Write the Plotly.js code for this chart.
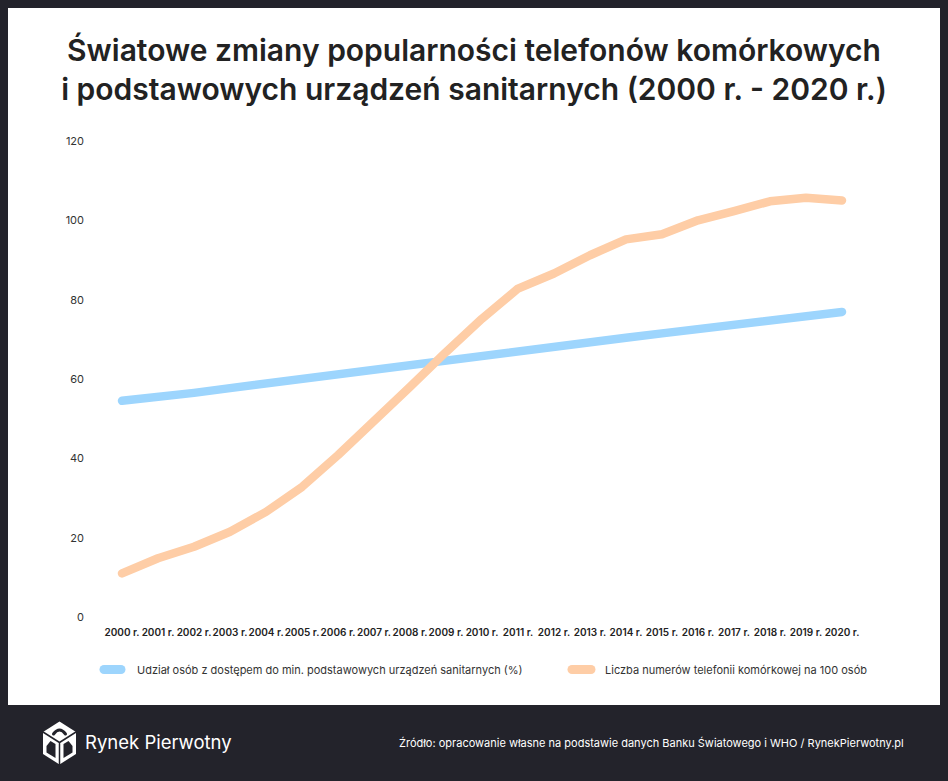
<!DOCTYPE html>
<html>
<head>
<meta charset="utf-8">
<script src="https://cdn.plot.ly/plotly-3.0.1.min.js"></script>
<style>
    html, body { margin: 0; padding: 0; background: #23232b; }
    #chart { width: 948px; height: 781px; }
    .scatterlayer path.js-line { stroke-linecap: round; stroke-linejoin: round; }
    .shapelayer path { stroke-linecap: round; stroke-linejoin: round; }
</style>
</head>
<body>
<div id="chart"></div>
<script>
const years = [2000, 2001, 2002, 2003, 2004, 2005, 2006, 2007, 2008, 2009, 2010,
    2011, 2012, 2013, 2014, 2015, 2016, 2017, 2018, 2019, 2020];
const yearLabels = years.map(y => y + ' r.');

// udział osób z dostępem do podstawowych urządzeń sanitarnych (%)
const sanitation = [54.5, 55.3, 56.5, 57.7, 58.9, 60.1, 61.2, 62.4, 63.6, 64.8, 66.0,
    67.1, 68.2, 69.3, 70.4, 71.5, 72.6, 73.6, 74.7, 75.8, 76.9];
// liczba numerów telefonii komórkowej na 100 osób
const mobile = [11.0, 14.8, 17.7, 21.5, 26.5, 32.8, 40.8, 49.2, 58.0, 66.8, 75.2,
    82.8, 86.6, 91.2, 95.2, 96.5, 100.0, 102.3, 104.8, 105.7, 105.0];

const seriesNames = [
    'Udział osób z dostępem do min. podstawowych urządzeń sanitarnych (%)',
    'Liczba numerów telefonii komórkowej na 100 osób',
];
const seriesColors = ['#9dd5fd', '#fecda6'];

const titleText = 'Światowe zmiany popularności telefonów komórkowych<br>i podstawowych urządzeń sanitarnych (2000 r. - 2020 r.)';
const sourceText = 'Źródło: opracowanie własne na podstawie danych Banku Światowego i WHO / RynekPierwotny.pl';
const brandText = 'Rynek Pierwotny';

const FONT = 'Inter, "Open Sans", sans-serif';

// plot area in page pixels, used to place the things living outside it
const PL = 104, PW = 756, PB = 617, PH = 476;
const px = x => (x - PL) / PW;
const py = y => (PB - y) / PH;

let trace1 = {
    name: seriesNames[0],
    x: yearLabels,
    y: sanitation,
    type: 'scatter',
    mode: 'lines',
    line: { color: seriesColors[0], width: 8.5 },
    hoverinfo: 'skip',
};
let trace2 = {
    name: seriesNames[1],
    x: yearLabels,
    y: mobile,
    type: 'scatter',
    mode: 'lines',
    line: { color: seriesColors[1], width: 8.5 },
    hoverinfo: 'skip',
};

// cube logo, in pixels around its anchor (y up)
const cube = 'M0,21.5 L16.5,11 L16.5,-11 L0,-21.5 L-16.5,-11 L-16.5,11 Z';
const cubeEdges = 'M-16.5,11 L0,0.5 L16.5,11 M0,0.5 L0,-21.5';
const cubeLeft = 'M-13,-3 L-9,2 L-4,-1 L-4,-15 L-13,-9.5 Z';
const cubeRight = 'M13,-3 L9,2 L4,-1 L4,-15 L13,-9.5 Z';
const cubeTop = 'M-6,9 Q0,17 6,9';
const logoX = px(59.5), logoY = py(743);

function logoPart(path, fill, stroke, width) {
    return {
        type: 'path', xref: 'paper', yref: 'paper',
        xsizemode: 'pixel', ysizemode: 'pixel',
        xanchor: logoX, yanchor: logoY,
        path: path, fillcolor: fill,
        line: { color: stroke, width: width },
    };
}

// hand made legend, one row under the axis
const legendY = py(669.5);
const legendSwatch = [[104, 121], [572, 591]];
const legendText = [135, 603];

let shapes = [
    {
        type: 'rect', xref: 'paper', yref: 'paper', layer: 'below',
        x0: px(8), x1: px(940), y0: py(705), y1: py(8),
        fillcolor: '#ffffff', line: { width: 0 },
    },
    logoPart(cube, '#ffffff', '#ffffff', 0),
    logoPart(cubeEdges, 'rgba(0,0,0,0)', '#23232b', 1.5),
    logoPart(cubeLeft, '#23232b', '#23232b', 0),
    logoPart(cubeRight, '#23232b', '#23232b', 0),
    logoPart(cubeTop, 'rgba(0,0,0,0)', '#23232b', 3),
];
let annotations = [
    {
        text: brandText, xref: 'paper', yref: 'paper',
        x: px(83), y: py(742),
        xanchor: 'left', yanchor: 'middle', showarrow: false,
        font: { family: FONT, size: 18.5, weight: 400, color: '#ffffff' },
    },
    {
        text: sourceText, xref: 'paper', yref: 'paper',
        x: px(906), y: py(743),
        xanchor: 'right', yanchor: 'middle', showarrow: false,
        font: { family: FONT, size: 11, color: '#ffffff' },
    },
];

seriesNames.forEach(function (name, i) {
    shapes.push({
        type: 'line', xref: 'paper', yref: 'paper',
        x0: px(legendSwatch[i][0]), x1: px(legendSwatch[i][1]),
        y0: legendY, y1: legendY,
        line: { color: seriesColors[i], width: 9 },
    });
    annotations.push({
        text: name, xref: 'paper', yref: 'paper',
        x: px(legendText[i]), y: legendY,
        xanchor: 'left', yanchor: 'middle', showarrow: false,
        font: { family: FONT, size: 11, color: '#333' },
    });
});

let layout = {
    width: 948,
    height: 781,
    paper_bgcolor: '#23232b',
    plot_bgcolor: 'rgba(0,0,0,0)',
    margin: { l: PL, r: 948 - PL - PW, t: PB - PH, b: 781 - PB },
    font: { family: FONT, color: '#222' },
    showlegend: false,
    title: {
        text: titleText,
        font: { family: FONT, size: 30, weight: 600, color: '#222' },
        xref: 'container',
        yref: 'container',
        x: 0.5,
        y: 1 - 61 / 781,
        xanchor: 'center',
        yanchor: 'middle',
    },
    xaxis: {
        type: 'category',
        range: [-0.5, 20.5],
        showgrid: false,
        zeroline: false,
        showline: false,
        ticks: '',
        tickangle: 0,
        ticklabelstandoff: 8,
        tickfont: { family: FONT, size: 10, weight: 600, color: '#222' },
        fixedrange: true,
    },
    yaxis: {
        range: [0, 120],
        dtick: 20,
        showgrid: false,
        zeroline: false,
        showline: false,
        ticks: '',
        ticklabelstandoff: 19,
        tickfont: { family: FONT, size: 11, color: '#333' },
        fixedrange: true,
    },
    shapes: shapes,
    annotations: annotations,
};

Plotly.newPlot('chart', [trace1, trace2], layout, { displayModeBar: false, staticPlot: true });
</script>
</body>
</html>
